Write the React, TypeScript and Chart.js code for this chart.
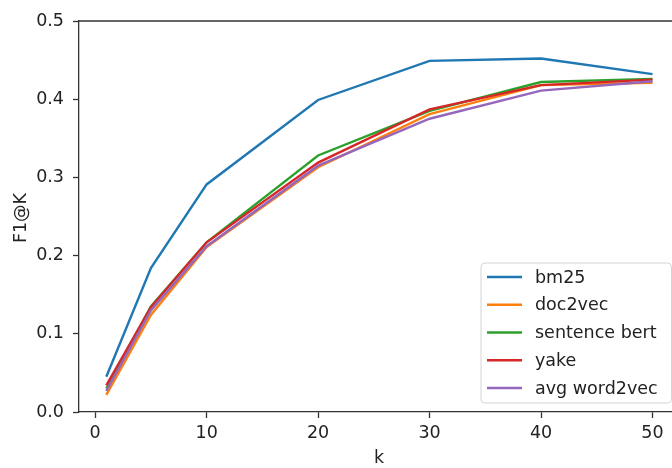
import React, { useEffect, useRef } from "react";
import { Chart, registerables } from "chart.js";

Chart.register(...registerables);

const kValues = [1, 5, 10, 20, 30, 40, 50];
const bm25 = [0.045, 0.184, 0.291, 0.399, 0.449, 0.452, 0.432];
const doc2vec = [0.022, 0.124, 0.211, 0.313, 0.381, 0.418, 0.421];
const sentenceBert = [0.03, 0.135, 0.217, 0.328, 0.385, 0.422, 0.426];
const yake = [0.034, 0.134, 0.217, 0.319, 0.387, 0.418, 0.425];
const avgWord2vec = [0.027, 0.13, 0.212, 0.315, 0.375, 0.411, 0.423];

const seriesLabels = ["bm25", "doc2vec", "sentence bert", "yake", "avg word2vec"];
const seriesValues = [bm25, doc2vec, sentenceBert, yake, avgWord2vec];
const seriesColors = ["#1f77b4", "#ff7f0e", "#2ca02c", "#d62728", "#9467bd"];

const xTicks = [0, 10, 20, 30, 40, 50];
const yTicks = [0, 0.1, 0.2, 0.3, 0.4, 0.5];
const xTitle = "k";
const yTitle = "F1@K";

const FONT = "DejaVu Sans";
const FS = 17.5;
const TEXT = "#222222";
const AXIS = "#333333";

const W = 672;
const H = 468;

const decorPlugin = {
  id: "decor",
  afterDraw(chart: any) {
    const { ctx, chartArea } = chart;
    ctx.save();
    // top spine
    ctx.strokeStyle = AXIS;
    ctx.lineWidth = 1.3;
    ctx.beginPath();
    ctx.moveTo(chartArea.left, chartArea.top);
    ctx.lineTo(chartArea.right + 10, chartArea.top);
    ctx.stroke();

    // axis titles
    ctx.fillStyle = TEXT;
    ctx.font = `${FS}px "${FONT}"`;
    ctx.textAlign = "center";
    ctx.textBaseline = "middle";
    ctx.fillText(xTitle, 379, 458);
    ctx.save();
    ctx.translate(21, 218);
    ctx.rotate(-Math.PI / 2);
    ctx.fillText(yTitle, 0, 0);
    ctx.restore();

    // legend
    const bx = 481, by = 263, bw = 190.5, bh = 140, r = 4;
    ctx.beginPath();
    ctx.moveTo(bx + r, by);
    ctx.lineTo(bx + bw - r, by);
    ctx.arcTo(bx + bw, by, bx + bw, by + r, r);
    ctx.lineTo(bx + bw, by + bh - r);
    ctx.arcTo(bx + bw, by + bh, bx + bw - r, by + bh, r);
    ctx.lineTo(bx + r, by + bh);
    ctx.arcTo(bx, by + bh, bx, by + bh - r, r);
    ctx.lineTo(bx, by + r);
    ctx.arcTo(bx, by, bx + r, by, r);
    ctx.closePath();
    ctx.fillStyle = "rgba(255,255,255,0.8)";
    ctx.fill();
    ctx.strokeStyle = "#d4d4d4";
    ctx.lineWidth = 1;
    ctx.stroke();

    const datasets = chart.data.datasets;
    ctx.font = `${FS}px "${FONT}"`;
    ctx.textAlign = "left";
    ctx.textBaseline = "middle";
    datasets.forEach((ds: any, i: number) => {
      const yy = 277 + i * 27.75;
      ctx.strokeStyle = ds.borderColor;
      ctx.lineWidth = 2.4;
      ctx.beginPath();
      ctx.moveTo(487, yy);
      ctx.lineTo(522, yy);
      ctx.stroke();
      ctx.fillStyle = TEXT;
      ctx.fillText(ds.label, 535, yy + 1);
    });
    ctx.restore();
  },
};

export default function App() {
  const ref = useRef<HTMLCanvasElement | null>(null);

  useEffect(() => {
    if (!ref.current) return;
    const chart = new Chart(ref.current, {
      type: "line",
      data: {
        datasets: seriesLabels.map((label, i) => ({
          label,
          data: kValues.map((k, j) => ({ x: k, y: seriesValues[i][j] })),
          borderColor: seriesColors[i],
          backgroundColor: seriesColors[i],
          borderWidth: 2.4,
          pointRadius: 0,
          tension: 0,
          fill: false,
          order: seriesLabels.length - i,
        })),
      },
      options: {
        responsive: false,
        animation: false,
        layout: { padding: { top: 21, left: 0, right: 0, bottom: 0 } },
        plugins: {
          legend: { display: false },
          tooltip: { enabled: false },
          title: { display: false },
        },
        scales: {
          x: {
            type: "linear",
            min: -1.45,
            max: 51.75,
            afterBuildTicks: (s: any) => {
              s.ticks = xTicks.map((v) => ({ value: v }));
            },
            afterFit: (s: any) => {
              s.height = H - 412;
            },
            ticks: {
              color: TEXT,
              font: { family: FONT, size: FS },
              padding: 5,
              maxRotation: 0,
              autoSkip: false,
              callback: (v: any) => String(v),
            },
            grid: {
              drawOnChartArea: false,
              drawTicks: true,
              tickLength: 6,
              tickColor: AXIS,
              tickWidth: 1.3,
            },
            border: { display: true, color: AXIS, width: 1.3 },
          },
          y: {
            type: "linear",
            min: 0,
            max: 0.5,
            afterBuildTicks: (s: any) => {
              s.ticks = yTicks.map((v) => ({ value: v }));
            },
            afterFit: (s: any) => {
              s.width = 79;
            },
            ticks: {
              color: TEXT,
              font: { family: FONT, size: FS },
              padding: 9,
              autoSkip: false,
              callback: (v: any) => Number(v).toFixed(1),
            },
            grid: {
              drawOnChartArea: false,
              drawTicks: true,
              tickLength: 6,
              tickColor: AXIS,
              tickWidth: 1.3,
            },
            border: { display: true, color: AXIS, width: 1.3 },
          },
        },
      },
      plugins: [decorPlugin],
    });
    return () => chart.destroy();
  }, []);

  return (
    <div style={{ position: "fixed", left: 0, top: 0, width: W, height: H, background: "#fff" }}>
      <canvas ref={ref} width={W} height={H} style={{ display: "block", width: W, height: H }} />
    </div>
  );
}
